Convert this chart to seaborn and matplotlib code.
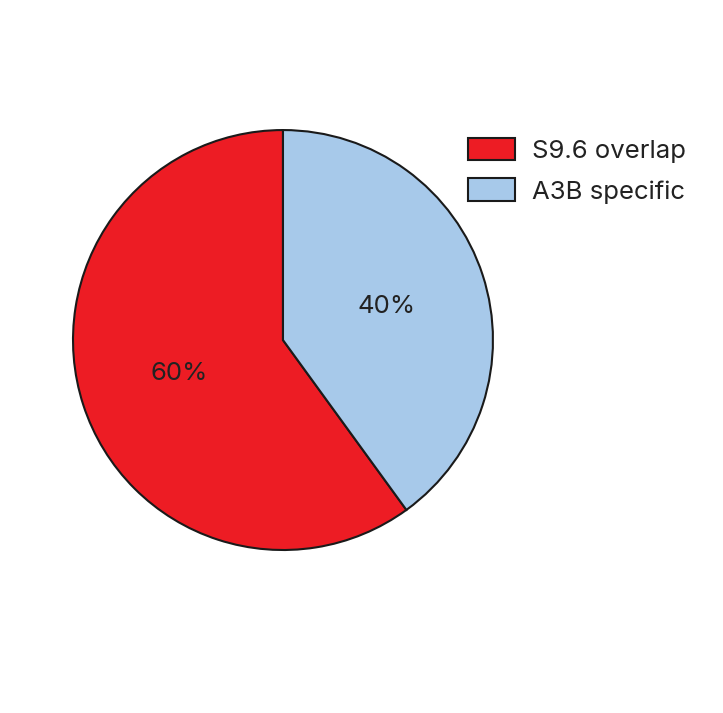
import matplotlib
matplotlib.use("Agg")
import matplotlib.pyplot as plt
import seaborn as sns

labels = ["S9.6 overlap", "A3B specific"]
shares = [60, 40]
colors = ["#ED1C24", "#A7C9EA"]

sns.set_theme(style="white")
plt.rcParams['font.family'] = ['Inter', 'DejaVu Sans']

fig = plt.figure(figsize=(7.23, 7.13), dpi=100)
ax = fig.add_axes([0.1009, 0.2286, 0.581, 0.589])

wedges, texts, autotexts = ax.pie(
    shares, colors=sns.color_palette(colors), startangle=90,
    autopct=lambda p: f"{p:.0f}%", pctdistance=0.52,
    wedgeprops=dict(edgecolor="#1a1a1a", linewidth=1.5),
    textprops=dict(fontsize=18.5, color="#222222"),
)
ax.set_xlim(-1.0, 1.0)
ax.set_ylim(-1.0, 1.0)
ax.set_aspect("equal")

fig.legend(wedges, labels, loc="upper left",
           bbox_to_anchor=(468 / 723, 1 - 138 / 713),
           frameon=False, borderpad=0, borderaxespad=0,
           handlelength=1.83, handleheight=0.97, labelspacing=0.6,
           handletextpad=0.66, fontsize=18.5, labelcolor="#222222")

fig.savefig("out.png", dpi=100, facecolor="white")
